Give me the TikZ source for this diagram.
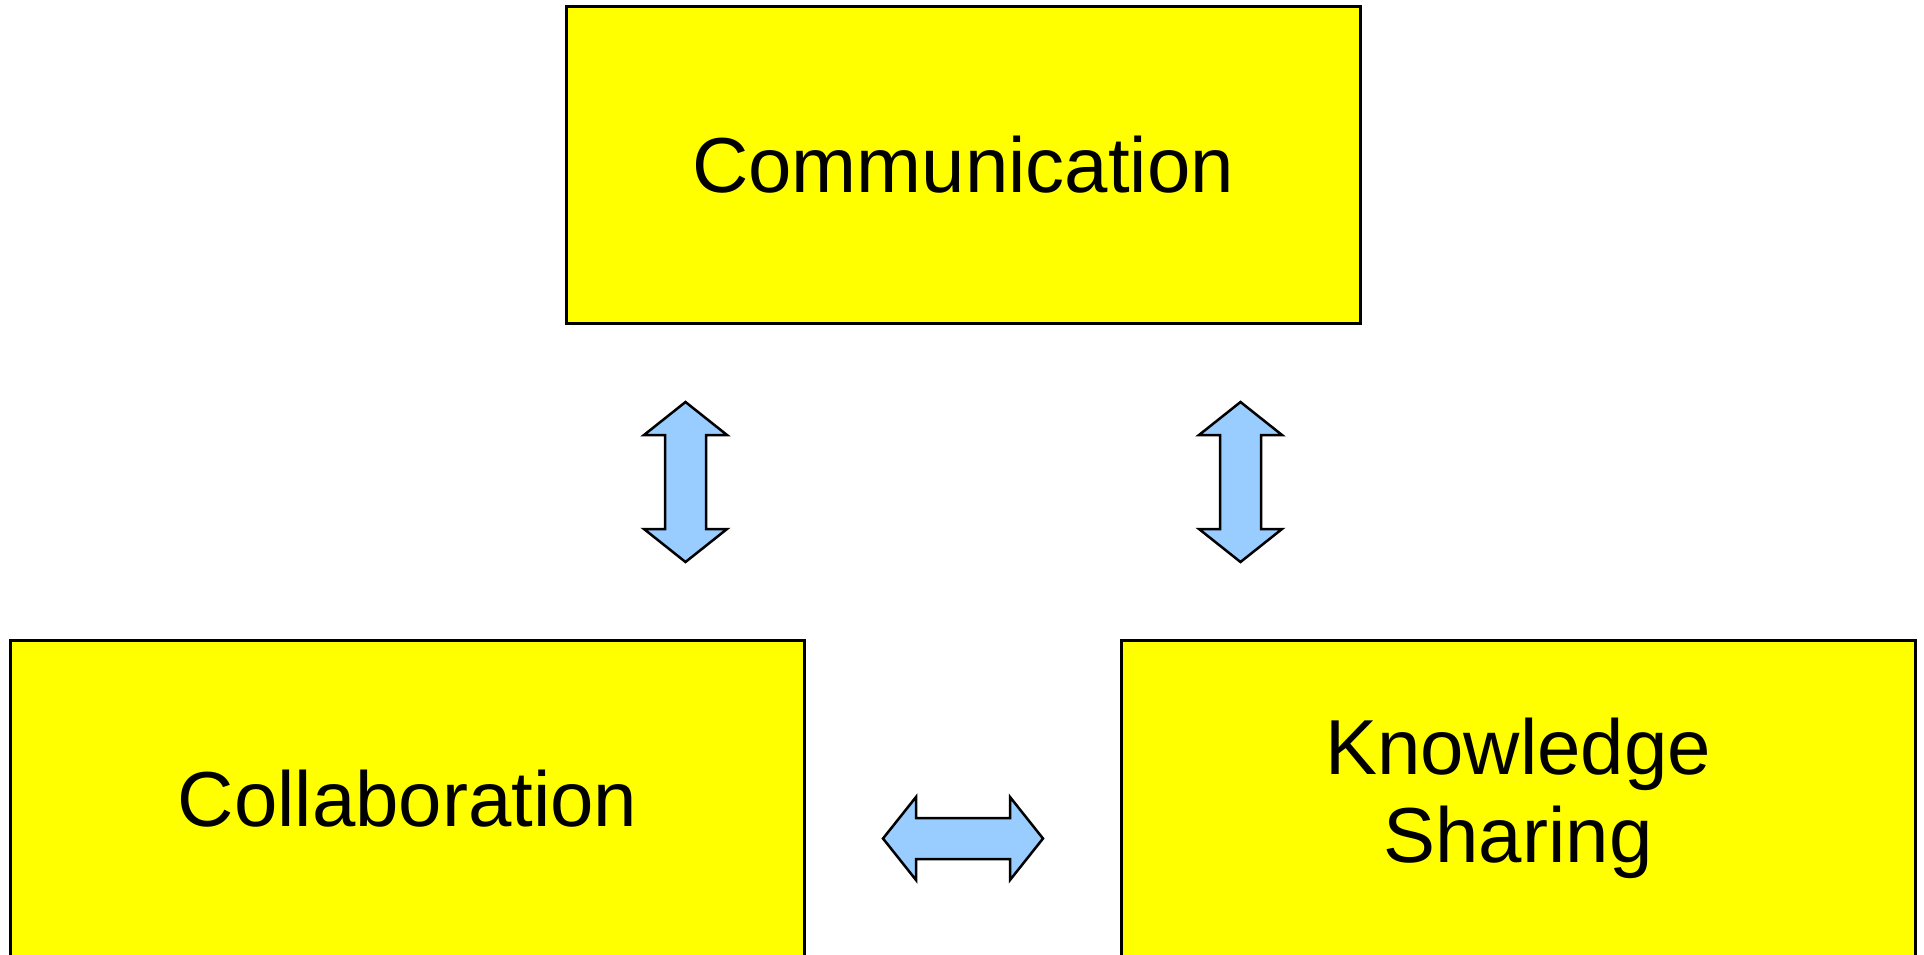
\documentclass[tikz,border=0pt]{standalone}
\usepackage{fontspec}
\setmainfont{Liberation Sans}
\definecolor{boxyellow}{HTML}{FFFF00}
\definecolor{arrowblue}{HTML}{99CCFF}
\tikzset{
  box/.style={draw=black, fill=boxyellow, line width=3pt, minimum width=794pt, minimum height=317pt,
    inner sep=0pt, align=center, font=\fontsize{78}{88}\selectfont},
  blockarrow/.style={draw=black, fill=arrowblue, line width=2.5pt, line join=miter},
  dblarrow/.pic={
    \draw[blockarrow] (0,-80) -- (41.5,-47) -- (20.5,-47) -- (20.5,47) -- (41.5,47) -- (0,80)
      -- (-41.5,47) -- (-20.5,47) -- (-20.5,-47) -- (-41.5,-47) -- cycle;
  }
}
\begin{document}
\begin{tikzpicture}[x=1pt,y=-1pt]
\useasboundingbox (0,0) rectangle (1924,954);
\node[box] (comm) at (963,164.5) {Communication};
\node[box] (coll) at (407.5,798.5) {Collaboration};
\node[box] (know) at (1518,798.5) {Knowledge\\Sharing};
\pic at (685.5,482) {dblarrow};
\pic at (1240.5,482) {dblarrow};
\pic[rotate=90] at (963,838.5) {dblarrow};
\end{tikzpicture}
\end{document}
